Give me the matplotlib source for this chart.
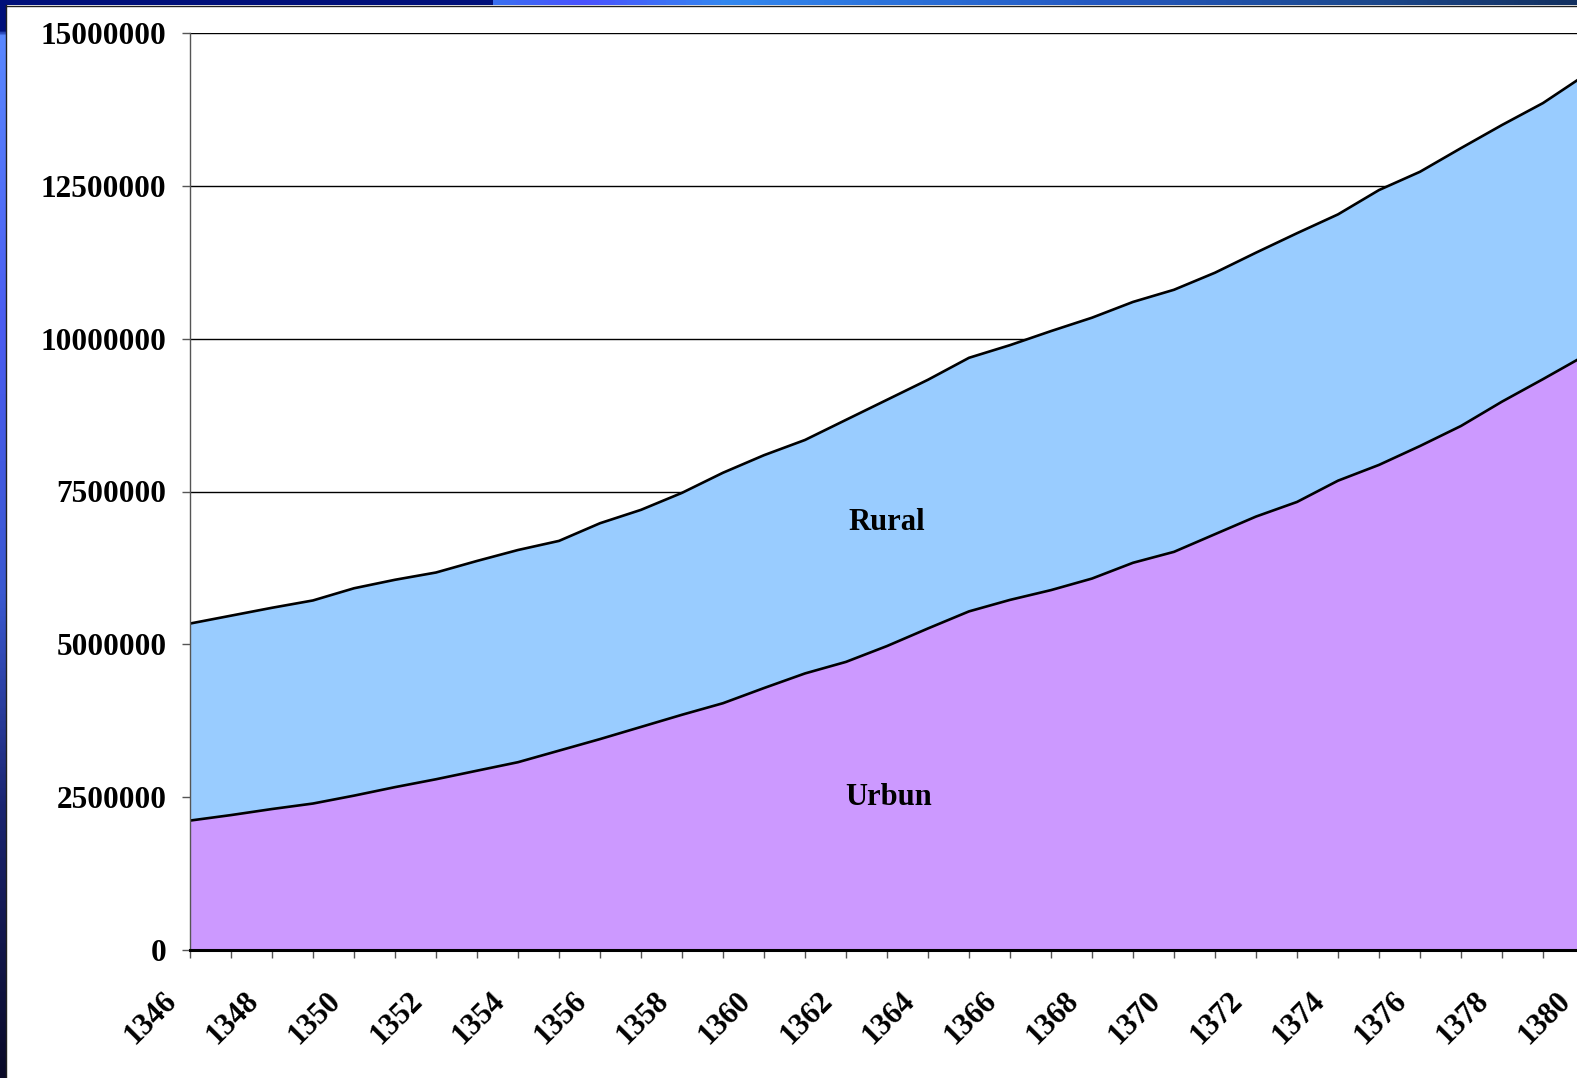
#!/usr/bin/env python3
# -*- encoding: utf-8 -*-

import numpy as np
import matplotlib
matplotlib.use('Agg')
import matplotlib.pyplot as plt
from matplotlib.colors import LinearSegmentedColormap
from matplotlib.transforms import ScaledTranslation

years = list(range(1346, 1381))
urban = [2117000, 2207000, 2306000, 2396000, 2525000, 2664000, 2793000, 2933000, 3072000, 3261000,
         3450000, 3649000, 3848000, 4037000, 4285000, 4524000, 4713000, 4972000, 5260000, 5539000,
         5727000, 5887000, 6076000, 6334000, 6513000, 6802000, 7090000, 7329000, 7677000, 7935000,
         8244000, 8572000, 8970000, 9338000, 9716000]
rural = [3223000, 3262000, 3292000, 3322000, 3392000, 3392000, 3382000, 3431000, 3471000, 3431000,
         3531000, 3551000, 3630000, 3770000, 3809000, 3819000, 3959000, 4028000, 4068000, 4148000,
         4167000, 4237000, 4267000, 4267000, 4287000, 4277000, 4317000, 4396000, 4356000, 4496000,
         4486000, 4545000, 4525000, 4516000, 4585000]
series_names = ['Urbun', 'Rural']
yticks = [0, 2500000, 5000000, 7500000, 10000000, 12500000, 15000000]
xlabel_years = years[::2]

W, H = 1577, 1078
plt.rcParams['font.family'] = ['Liberation Serif', 'DejaVu Serif']
plt.rcParams['font.weight'] = 'bold'

fig = plt.figure(figsize=(W / 100, H / 100), dpi=100)
fig.patch.set_facecolor('white')

# slide frame: thin gradient strips on top and left
top_cmap = LinearSegmentedColormap.from_list('top', [
    (0.0, '#00107a'), (0.31, '#00107a'), (0.312, '#3a70f0'), (0.37, '#4a52ff'),
    (0.46, '#3388f0'), (0.7, '#2458c0'), (0.86, '#1d4a90'), (1.0, '#123060')])
top = fig.add_axes([0, 1 - 5 / H, 1, 5 / H])
top.imshow(np.linspace(0, 1, 400)[None, :], aspect='auto', cmap=top_cmap)
top.axis('off')

left_cmap = LinearSegmentedColormap.from_list('left', [
    (0.0, '#00107a'), (0.022, '#00107a'), (0.025, '#5a88ff'), (0.3, '#4a5cf0'),
    (0.55, '#3a58d0'), (0.75, '#1a2470'), (1.0, '#0a0a28')])
left = fig.add_axes([0, 0, 6 / W, 1 - 5 / H])
left.imshow(np.linspace(0, 1, 400)[:, None], aspect='auto', cmap=left_cmap)
left.axis('off')
fig.add_artist(plt.Line2D([6 / W, 6 / W], [0, 1 - 5 / H], color='#202020', lw=1))
fig.add_artist(plt.Line2D([6 / W, 1], [1 - 5.5 / H, 1 - 5.5 / H], color='#202020', lw=1))

# plot area runs past the right edge of the picture
ax = fig.add_axes([190 / W, (H - 950) / H, (1584 - 190) / W, 917 / H])
ax.set_facecolor('white')

urban_arr = np.array(urban)
total_arr = urban_arr + np.array(rural)
ax.stackplot(years, urban, rural, colors=['#cc99ff', '#99ccff'], zorder=2)
ax.plot(years, urban_arr, color='black', lw=1.9, zorder=3)
ax.plot(years, total_arr, color='black', lw=1.9, zorder=3)

ax.set_xlim(1346, 1380)
ax.set_ylim(0, 15000000)
ax.set_yticks(yticks)
ax.set_yticklabels([str(v) for v in yticks])
ax.yaxis.grid(True, color='black', lw=1, zorder=1)
ax.set_axisbelow(True)

ax.set_xticks(years)
ax.set_xticklabels([])
lab_shift = ax.transData + ScaledTranslation(-0.18, -0.47, fig.dpi_scale_trans)
for y in xlabel_years:
    ax.text(y, 0, str(y), transform=lab_shift, fontsize=22, fontweight='bold',
            rotation=45, ha='right', va='center', rotation_mode='anchor', clip_on=False)

ax.tick_params(axis='y', labelsize=22.5, length=6, width=1, color='#555555', pad=11, direction='out')
ax.tick_params(axis='x', length=6, width=1, color='#555555', direction='out')

for s in ['top', 'right']:
    ax.spines[s].set_visible(False)
ax.spines['left'].set_color('#555555')
ax.spines['left'].set_linewidth(1)
ax.spines['left'].set_zorder(4)
ax.spines['bottom'].set_color('black')
ax.spines['bottom'].set_linewidth(2.2)
ax.spines['bottom'].set_zorder(4)

ax.text(1363.0, 7000000, series_names[1], fontsize=22, fontweight='bold', ha='center', va='center', zorder=5)
ax.text(1363.05, 2490000, series_names[0], fontsize=22, fontweight='bold', ha='center', va='center', zorder=5)

fig.savefig('out.png', dpi=100)
